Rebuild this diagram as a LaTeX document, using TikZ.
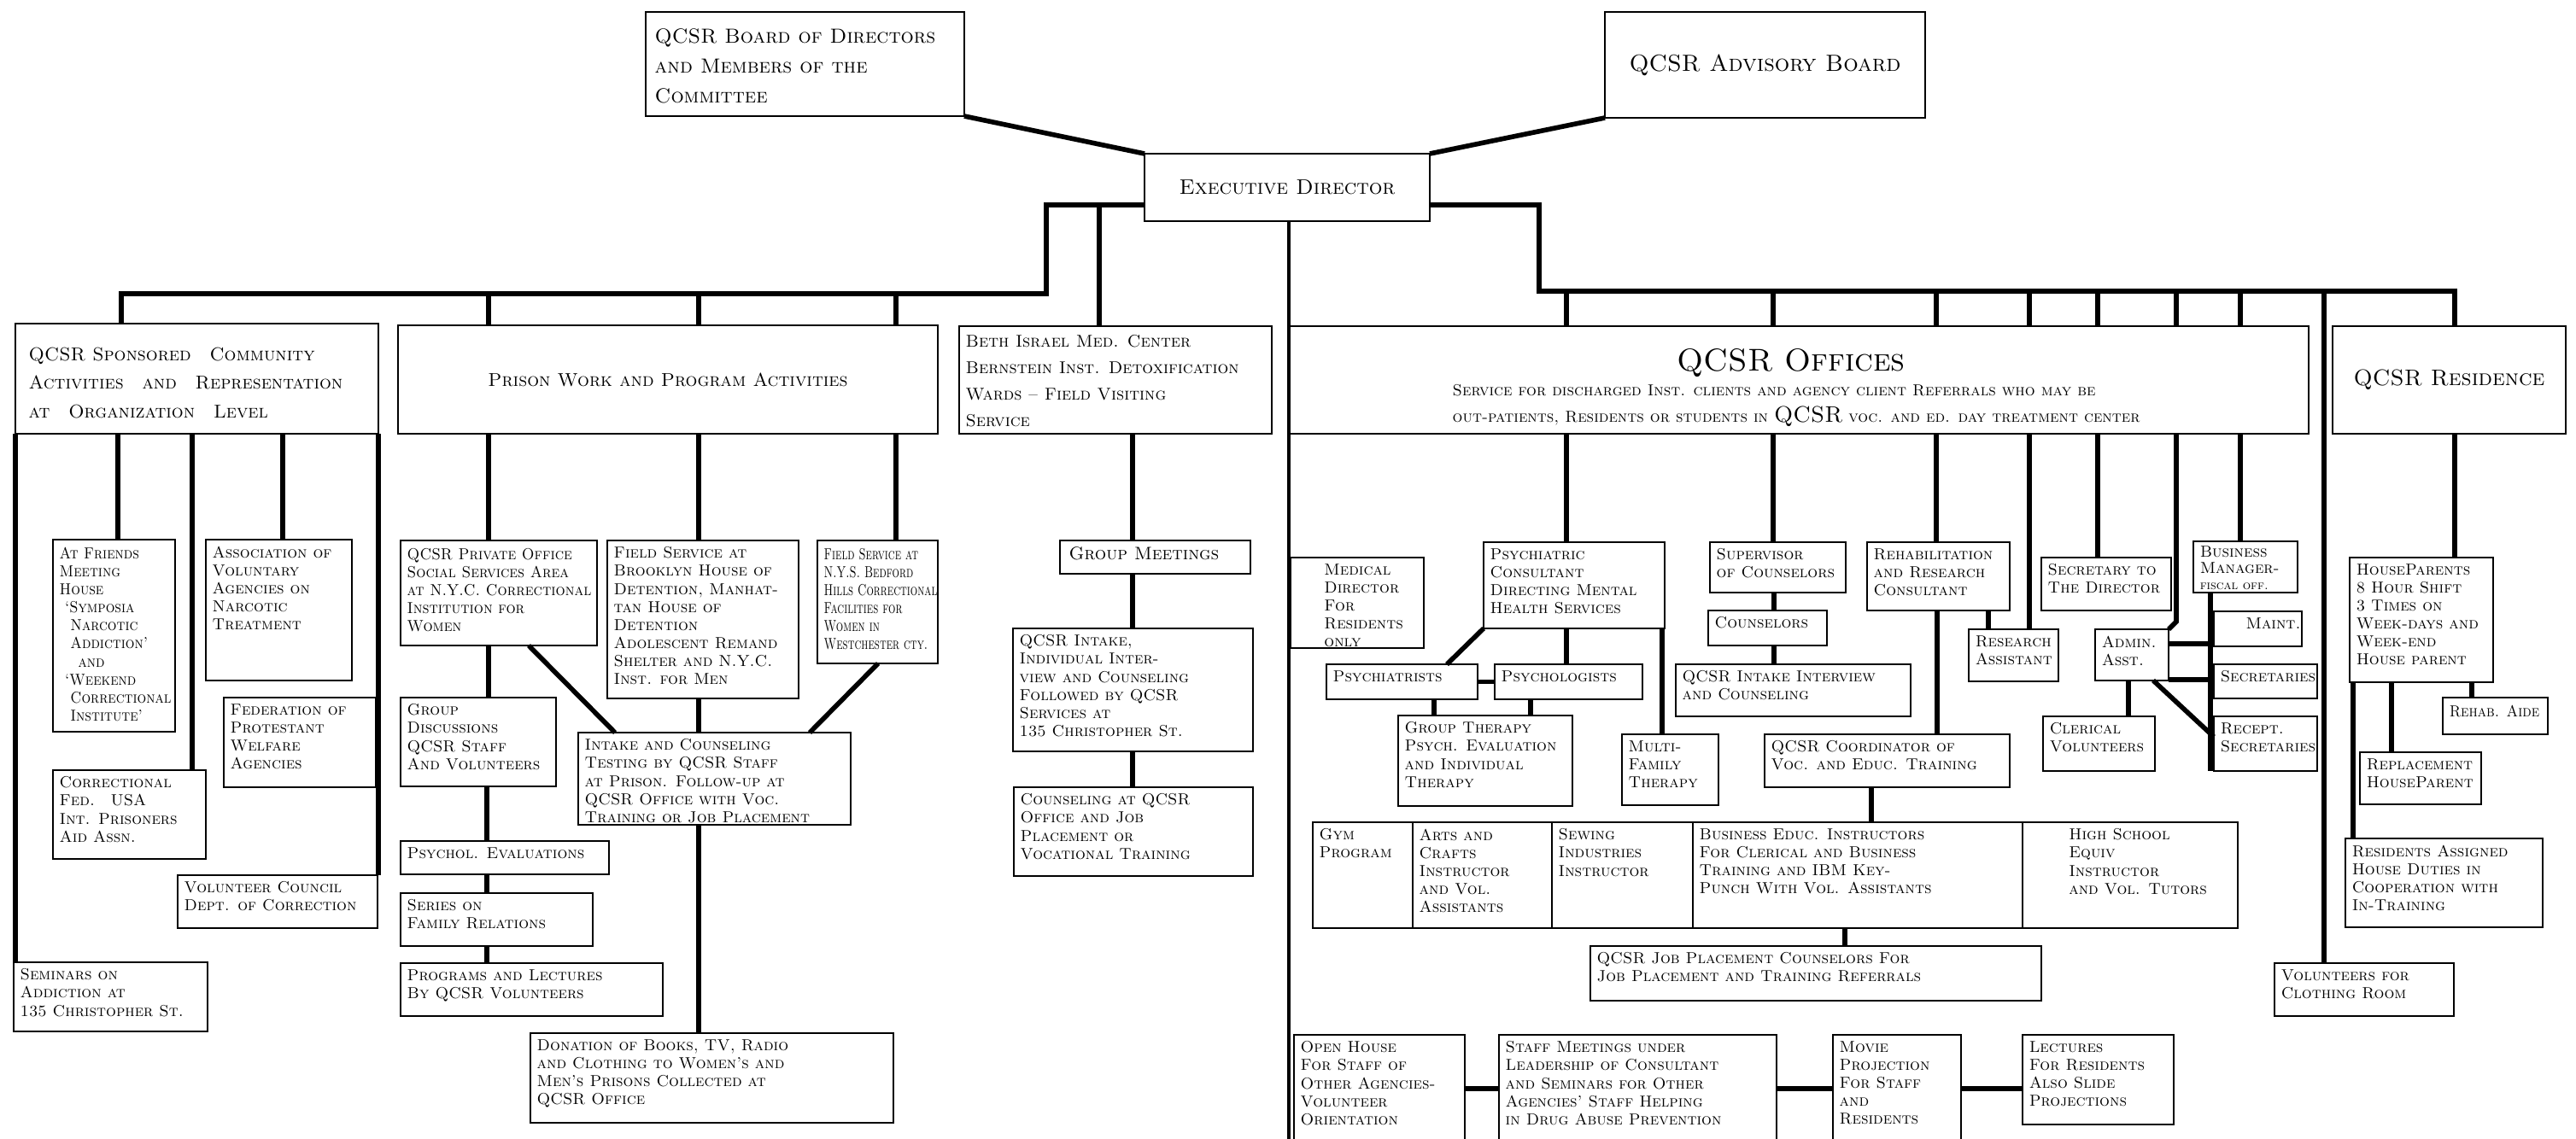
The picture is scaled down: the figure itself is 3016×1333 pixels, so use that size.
\documentclass[tikz,border=0pt]{standalone}
\usepackage{fontspec}
\usepackage{graphicx}
\begin{document}
\tikzset{
 bx/.style={draw, line width=0.8pt, inner sep=0pt, outer sep=0pt},
 tx/.style={font=\fontsize{5.3}{6}\selectfont\scshape, align=left, anchor=north west, inner sep=0pt},
 conn/.style={line width=1.6pt},
 thinconn/.style={line width=1.1pt},
}
\newcommand\bx[7][]{%
 \node[bx, minimum width={(#5-(#3))*0.01cm}, minimum height={(#6-(#4))*0.01cm}] (#2) at ({(#3+#5)/2},{(#4+#6)/2}) {};
 \node[tx,#1] (#2t) at ([xshift=0.07cm,yshift=-0.07cm]#2.north west) {#7};}
\newcommand\bxc[7]{%
 \node[bx, font=#6, align=center, minimum width={(#4-(#2))*0.01cm}, minimum height={(#5-(#3))*0.01cm}] (#1) at ({(#2+#4)/2},{(#3+#5)/2}) {#7};}
\newcommand\sq[2]{\scalebox{#1}[1]{\begin{tabular}{@{}l@{}}#2\end{tabular}}}
\begin{tikzpicture}[x=0.01cm,y=-0.01cm]
\fill[white] (0,0) rectangle (3016,1333);
\useasboundingbox (0,0) rectangle (3016,1333);

% top
\bx[font=\fontsize{6.8}{10}\selectfont\scshape, yshift=-0.12cm, xshift=0.03cm]{board}{756}{14}{1129}{136}{QCSR Board of Directors\\and Members of the\\Committee}
\bxc{adv}{1879}{14}{2254}{138}{\fontsize{7.8}{9}\selectfont\scshape}{QCSR Advisory Board}
\bxc{exec}{1340}{180}{1674}{259}{\fontsize{7}{8}\selectfont\scshape}{Executive Director}

% left column
\bx[font=\fontsize{6.2}{9.6}\selectfont\scshape, yshift=-0.2cm, xshift=0.08cm]{spons}{18}{379}{443}{508}{QCSR Sponsored\quad Community\\Activities\quad and\quad Representation\\at\quad Organization\quad Level}
\bx{friends}{62}{632}{205}{857}{\sq{0.9}{At Friends\\Meeting\\House\\\ `Symposia\\\ \ Narcotic\\\ \ Addiction'\\\hspace*{1.3em}and\\\ `Weekend\\\ \ Correctional\\\ \ Institute'}}
\bx{assoc}{241}{632}{412}{797}{Association of\\Voluntary\\Agencies on\\Narcotic\\Treatment}
\bx{fed}{262}{817}{440}{922}{Federation of\\Protestant\\Welfare\\Agencies}
\bx{corr}{62}{902}{241}{1006}{Correctional\\Fed.\quad USA\\Int. Prisoners\\Aid Assn.}
\bx{volc}{208}{1025}{442}{1087}{Volunteer Council\\Dept. of Correction}
\bx{sem}{16}{1127}{243}{1208}{Seminars on\\Addiction at\\135 Christopher St.}

% prison column
\bxc{prison}{466}{381}{1098}{508}{\fontsize{6.2}{8}\selectfont\scshape}{Prison Work and Program Activities}
\bx{priv}{469}{633}{699}{756}{\sq{0.94}{QCSR Private Office\\Social Services Area\\at N.Y.C. Correctional\\Institution for\\Women}}
\bx{brook}{711}{633}{935}{818}{Field Service at\\Brooklyn House of\\Detention, Manhat-\\tan House of\\Detention\\Adolescent Remand\\Shelter and N.Y.C.\\Inst. for Men}
\bx{bed}{957}{633}{1098}{777}{\sq{0.71}{Field Service at\\N.Y.S. Bedford\\Hills Correctional\\Facilities for\\Women in\\Westchester cty.}}
\bx{gd}{469}{817}{651}{921}{Group\\Discussions\\QCSR Staff\\And Volunteers}
\bx{intake}{677}{858}{996}{966}{Intake and Counseling\\Testing by QCSR Staff\\at Prison. Follow-up at\\QCSR Office with Voc.\\Training or Job Placement}
\bx{psy}{469}{985}{713}{1024}{Psychol. Evaluations}
\bx{ser}{469}{1046}{694}{1108}{Series on\\Family Relations}
\bx{prog}{469}{1128}{776}{1190}{Programs and Lectures\\By QCSR Volunteers}
\bx{don}{621}{1210}{1046}{1315}{Donation of Books, TV, Radio\\and Clothing to Women's and\\Men's Prisons Collected at\\QCSR Office}

% Beth Israel column
\bx[font=\fontsize{5.7}{8.8}\selectfont\scshape, yshift=-0.03cm]{beth}{1123}{382}{1489}{508}{Beth Israel Med. Center\\Bernstein Inst. Detoxification\\Wards -- Field Visiting\\Service}
\bx[font=\fontsize{6}{6.5}\selectfont\scshape, xshift=0.03cm]{gm}{1241}{633}{1464}{672}{Group Meetings}
\bx{qi}{1186}{736}{1467}{880}{QCSR Intake,\\Individual Inter-\\view and Counseling\\Followed by QCSR\\Services at\\135 Christopher St.}
\bx{cq}{1187}{922}{1467}{1026}{Counseling at QCSR\\Office and Job\\Placement or\\Vocational Training}

% QCSR offices
\bx{offices}{1510}{382}{2703}{508}{}
\node[font=\fontsize{10.5}{12}\selectfont\scshape, inner sep=0pt] (offt) at (2097,425) {QCSR Offices};
\node[tx, font=\fontsize{5.3}{8.6}\selectfont\scshape] (offs) at (1700,450) {Service for discharged Inst. clients and agency client Referrals who may be\\out-patients, Residents or students in {\fontsize{7.5}{8}\selectfont QCSR} voc. and ed. day treatment center};
\bxc{res}{2731}{382}{3004}{508}{\fontsize{7.5}{9}\selectfont\scshape}{QCSR Residence}

\bx{med}{1511}{653}{1667}{759}{\hspace*{1.7em}Medical\\\hspace*{1.7em}Director\\\hspace*{1.7em}For\\\hspace*{1.7em}Residents\\\hspace*{1.7em}only}
\bx{psych}{1737}{635}{1949}{736}{Psychiatric\\Consultant\\Directing Mental\\Health Services}
\bx{pst}{1553}{778}{1730}{819}{Psychiatrists}
\bx{psl}{1750}{778}{1923}{819}{Psychologists}
\bx{gt}{1637}{838}{1841}{944}{Group Therapy\\Psych. Evaluation\\and Individual\\Therapy}
\bx{mf}{1899}{860}{2012}{943}{Multi-\\Family\\Therapy}
\bx{sup}{2002}{635}{2161}{694}{Supervisor\\of Counselors}
\bx{couns}{2000}{715}{2139}{756}{Counselors}
\bx{ii}{1962}{778}{2237}{839}{QCSR Intake Interview\\and Counseling}
\bx{rehab}{2186}{635}{2353}{715}{Rehabilitation\\and Research\\Consultant}
\bx{coord}{2066}{860}{2353}{922}{QCSR Coordinator of\\Voc. and Educ. Training}
\bx{ra}{2305}{737}{2410}{798}{Research\\Assistant}
\bx{sec}{2390}{653}{2542}{715}{Secretary to\\The Director}
\bx{admin}{2453}{737}{2539}{797}{Admin.\\Asst.}
\bx{cler}{2392}{839}{2523}{903}{Clerical\\Volunteers}
\bx[font=\fontsize{5.3}{5.4}\selectfont\scshape, yshift=0.02cm]{bm}{2568}{634}{2690}{694}{Business\\Manager-\\{\fontsize{4.2}{4.5}\selectfont fiscal off.}}
\bx{maint}{2592}{716}{2695}{757}{\hspace*{1.6em}Maint.}
\bx{secs}{2592}{778}{2713}{818}{Secretaries}
\bx{recept}{2592}{839}{2713}{903}{Recept.\\Secretaries}

% activity row
\bx{cgym}{1537}{963}{1654}{1087}{Gym\\Program}
\bx{carts}{1654}{963}{1817}{1087}{Arts and\\Crafts\\Instructor\\and Vol.\\Assistants}
\bx{csew}{1817}{963}{1982}{1087}{Sewing\\Industries\\Instructor}
\bx{cbus}{1982}{963}{2368}{1087}{Business Educ. Instructors\\For Clerical and Business\\Training and IBM Key-\\Punch With Vol. Assistants}
\bx{chs}{2368}{963}{2620}{1087}{\hspace*{2.5em}High School\\\hspace*{2.5em}Equiv\\\hspace*{2.5em}Instructor\\\hspace*{2.5em}and Vol. Tutors}
\bx{jp}{1862}{1108}{2390}{1172}{QCSR Job Placement Counselors For\\Job Placement and Training Referrals}

% bottom row
\bx{open}{1515}{1212}{1715}{1345}{Open House\\For Staff of\\Other Agencies-\\Volunteer\\Orientation}
\bx{staff}{1755}{1212}{2080}{1345}{Staff Meetings under\\Leadership of Consultant\\and Seminars for Other\\Agencies' Staff Helping\\in Drug Abuse Prevention}
\bx{movie}{2146}{1212}{2296}{1345}{Movie\\Projection\\For Staff\\and\\Residents}
\bx{lect}{2368}{1212}{2545}{1317}{Lectures\\For Residents\\Also Slide\\Projections}

% residence
\bx{hp}{2751}{653}{2919}{799}{HouseParents\\8 Hour Shift\\3 Times on\\Week-days and\\Week-end\\House parent}
\bx{aide}{2860}{817}{2983}{860}{\sq{0.9}{Rehab. Aide}}
\bx{repl}{2763}{881}{2905}{942}{Replacement\\HouseParent}
\bx{resid}{2746}{982}{2977}{1086}{Residents Assigned\\House Duties in\\Cooperation with\\In-Training}
\bx{cloth}{2663}{1128}{2873}{1190}{Volunteers for\\Clothing Room}

% ---------- connectors ----------
\coordinate (eL) at (1225,240);
\coordinate (eB) at (1287,240);
\coordinate (eR) at (1802,240);
\coordinate (bL) at (142,344);
\coordinate (bLe) at (1225,344);
\coordinate (bR) at (1802,341);
\coordinate (bRe) at (2874,341);
\coordinate (cB) at (1509,1345);

\draw[conn] (board.south east) -- (exec.north west);
\draw[conn] (adv.south west) -- (exec.north east);
\draw[conn] (exec.west |- eL) -- (eL) -- (bLe) -- (bL) -- (spons.north -| bL);
\draw[conn] (eB) -- (beth.north -| eB);
\draw[conn] (exec.east |- eR) -- (eR) -- (bR) -- (bRe) -- (res.north -| bRe);
\draw[thinconn] (exec.south -| cB) -- (cB);

% left column
\draw[conn] (spons.south west) -- (sem.north -| spons.south west);
\draw[conn] (spons.south -| 138,0) -- (friends.north -| 138,0);
\draw[conn] (spons.south -| 225,0) -- (corr.north -| 225,0);
\draw[conn] (spons.south -| 331,0) -- (assoc.north -| 331,0);
\draw[conn] (spons.south east) -- (volc.north -| spons.south east);

% prison column
\foreach \xx in {572,818,1049}{
 \draw[conn] (\xx,344) -- (prison.north -| \xx,0);
}
\draw[conn] (prison.south -| 572,0) -- (priv.north -| 572,0);
\draw[conn] (prison.south -| 818,0) -- (brook.north -| 818,0);
\draw[conn] (prison.south -| 1049,0) -- (bed.north -| 1049,0);
\draw[conn] (priv.south -| 572,0) -- (gd.north -| 572,0);
\draw[conn] (gd.south -| 570,0) -- (psy.north -| 570,0);
\draw[conn] (psy.south -| 570,0) -- (ser.north -| 570,0);
\draw[conn] (ser.south -| 570,0) -- (prog.north -| 570,0);
\draw[conn] (priv.south -| 619,0) -- (intake.north -| 720,0);
\draw[conn] (brook.south -| 818,0) -- (intake.north -| 818,0);
\draw[conn] (bed.south -| 1028,0) -- (intake.north -| 948,0);
\draw[conn] (intake.south -| 818,0) -- (don.north -| 818,0);

% Beth Israel column
\draw[conn] (beth.south -| 1326,0) -- (gm.north -| 1326,0);
\draw[conn] (gm.south -| 1326,0) -- (qi.north -| 1326,0);
\draw[conn] (qi.south -| 1326,0) -- (cq.north -| 1326,0);

% offices drops
\foreach \xx in {1834,2076,2267,2376,2456,2548,2623}{
 \draw[conn] (\xx,341) -- (offices.north -| \xx,0);
}
\draw[conn] (offices.south -| 1834,0) -- (psych.north -| 1834,0);
\draw[conn] (offices.south -| 2076,0) -- (sup.north -| 2076,0);
\draw[conn] (offices.south -| 2267,0) -- (rehab.north -| 2267,0);
\draw[conn] (offices.south -| 2376,0) -- (ra.north -| 2376,0);
\draw[conn] (offices.south -| 2456,0) -- (sec.north -| 2456,0);
\draw[conn] (offices.south -| 2548,0) -- (2548,728) -- (admin.north east);
\draw[conn] (offices.south -| 2623,0) -- (bm.north -| 2623,0);
\draw[conn] (2721,341) -- (cloth.north -| 2721,0);

% psychiatric group
\draw[conn] (psych.south west) -- (pst.north -| 1694,0);
\draw[conn] (psych.south -| 1834,0) -- (psl.north -| 1834,0);
\draw[conn] (pst.east) -- (psl.west);
\draw[conn] (pst.south -| 1679,0) -- (gt.north -| 1679,0);
\draw[conn] (psl.south -| 1792,0) -- (gt.north -| 1792,0);
\draw[conn] (psych.south -| 1946,0) -- (mf.north -| 1946,0);
\draw[conn] (sup.south -| 2077,0) -- (couns.north -| 2077,0);
\draw[conn] (couns.south -| 2077,0) -- (ii.north -| 2077,0);
\draw[conn] (rehab.south -| 2268,0) -- (coord.north -| 2268,0);
\draw[conn] (rehab.south -| 2328,0) -- (ra.north -| 2328,0);
\draw[conn] (coord.south -| 2191,0) -- (cbus.north -| 2191,0);
\draw[conn] (cbus.south -| 2160,0) -- (jp.north -| 2160,0);

% admin group
\draw[conn] (bm.south -| 2588,0) -- (recept.south -| 2588,0);
\draw[conn] (admin.east |- 0,754) -- (2588,754);
\draw[conn] (admin.east |- 0,796) -- (2588,796);
\draw[conn] (admin.south -| 2521,0) -- (recept.west |- 0,863);
\draw[conn] (admin.south -| 2492,0) -- (cler.north -| 2492,0);

% residence
\draw[conn] (res.south -| 2874,0) -- (hp.north -| 2874,0);
\draw[conn] (hp.south -| 2894,0) -- (aide.north -| 2894,0);
\draw[conn] (hp.south -| 2800,0) -- (repl.north -| 2800,0);
\draw[conn] (hp.south -| 2755,0) -- (resid.north -| 2755,0);

% bottom row
\draw[conn] (open.east |- 0,1275) -- (staff.west |- 0,1275);
\draw[conn] (staff.east |- 0,1275) -- (movie.west |- 0,1275);
\draw[conn] (movie.east |- 0,1275) -- (lect.west |- 0,1275);
\end{tikzpicture}
\end{document}
